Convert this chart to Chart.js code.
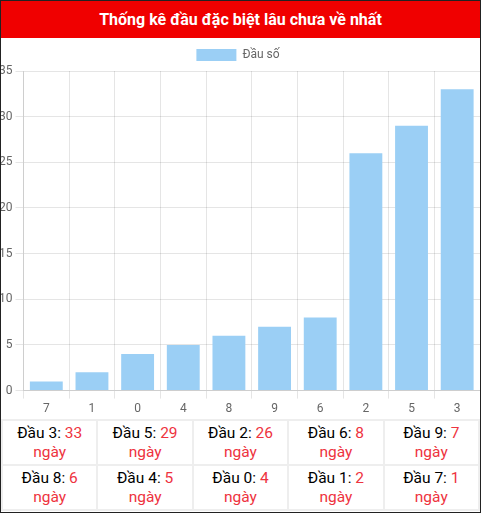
<!DOCTYPE html>
<html><head><meta charset="utf-8">
<script src="https://cdn.jsdelivr.net/npm/chart.js@4"></script>
<style>
html,body{margin:0;padding:0;background:#fff;font-family:Roboto,sans-serif}
#wrap{position:absolute;left:0;top:0;width:479px;height:511px;border:1px solid #222;overflow:hidden}
#title{height:37px;background:#f00000;color:#fff;font-weight:bold;font-size:16px;line-height:37px;text-align:center}
#cv{position:absolute;left:-5px;top:38px;width:486px;height:380px}
table{position:absolute;left:0;top:418px;width:479px;border-collapse:collapse;table-layout:fixed}
td{border:2px solid #eee;text-align:center;font-size:15.5px;line-height:19px;height:43px;padding:0;color:#000}
td span{color:#ee3340}
</style></head><body>
<div id="wrap">
<div id="title">Thống kê đầu đặc biệt lâu chưa về nhất</div>
<div id="cv"><canvas id="c"></canvas></div>
<table id="t"></table>
</div>
<script>
const labels=["7","1","0","4","8","9","6","2","5","3"];
const values=[1,2,4,5,6,7,8,26,29,33];
const tableHeads=["3","5","2","6","9","8","4","0","1","7"];
const tableDays=[33,29,26,8,7,6,5,4,2,1];
let html="";
for(let r=0;r<2;r++){html+="<tr>";for(let c=0;c<5;c++){const i=r*5+c;html+=`<td>Đầu ${tableHeads[i]}: <span>${tableDays[i]}<br>ngày</span></td>`;}html+="</tr>";}
document.getElementById("t").innerHTML=html;
Chart.defaults.font.family="Roboto";
new Chart(document.getElementById("c"),{type:"bar",
data:{labels:labels,datasets:[{label:"Đầu số",data:values,backgroundColor:"rgba(155,207,245,1)",borderColor:"rgba(155,207,245,1)"}]},
options:{responsive:true,maintainAspectRatio:false,animation:false,
layout:{padding:{left:0,right:2,top:0,bottom:0}},
plugins:{legend:{labels:{color:"#666",boxWidth:40,font:{size:12}}},tooltip:{enabled:false}},
scales:{y:{min:0,max:35,ticks:{stepSize:5,color:"#666"},grid:{color:"rgba(0,0,0,0.1)"}},
x:{ticks:{color:"#666"},grid:{color:"rgba(0,0,0,0.1)"}}}}});
</script>
</body></html>
